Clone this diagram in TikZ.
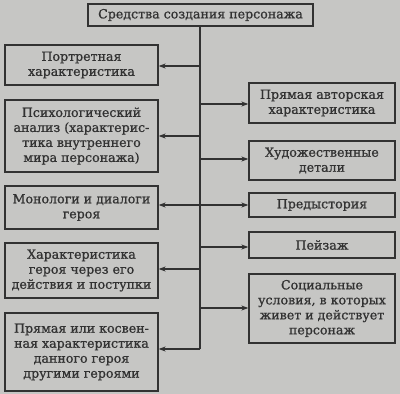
\documentclass[tikz,border=0pt]{standalone}
\usepackage{fontspec}
\setmainfont{DejaVu Serif}
\newfontfamily\boxfont{DejaVu Serif}[FakeBold=0.9]
\usetikzlibrary{arrows.meta}
\definecolor{bg}{RGB}{198,198,196}
\definecolor{ink}{RGB}{50,50,50}
\begin{document}
\begin{tikzpicture}[x=1pt,y=-1pt,
  box/.style={draw=ink,line width=1.3pt,fill=bg,text=ink,align=center,inner sep=0pt,
    font=\boxfont\fontsize{12.6}{15}\selectfont},
  arr/.style={draw=ink,line width=1.3pt,-{Stealth[length=7pt,width=5pt]}}]
\fill[bg] (0,0) rectangle (400,394);
\useasboundingbox (0,0) rectangle (400,394);
% top
\node[box,minimum width=225pt,minimum height=22pt] (top) at (200.5,15) {Средства создания персонажа};
% left column
\node[box,minimum width=153pt,minimum height=40pt] (l1) at (81.5,65) {Портретная\\характеристика};
\node[box,minimum width=153pt,minimum height=72pt] (l2) at (81.5,136) {Психологический\\анализ (характерис-\\тика внутреннего\\мира персонажа)};
\node[box,minimum width=153pt,minimum height=43pt] (l3) at (81.5,207.5) {Монологи и диалоги\\героя};
\node[box,minimum width=153pt,minimum height=55pt] (l4) at (81.5,270.5) {Характеристика\\героя через его\\действия и поступки};
\node[box,minimum width=153pt,minimum height=78pt] (l5) at (81.5,352) {Прямая или косвен-\\ная характеристика\\данного героя\\другими героями};
% right column
\node[box,minimum width=146pt,minimum height=40pt] (r1) at (322,103) {Прямая авторская\\характеристика};
\node[box,minimum width=146pt,minimum height=39pt] (r2) at (322,160.5) {Художественные\\детали};
\node[box,minimum width=146pt,minimum height=24pt] (r3) at (322,205) {Предыстория};
\node[box,minimum width=146pt,minimum height=26pt] (r4) at (322,245) {Пейзаж};
\node[box,minimum width=146pt,minimum height=69pt] (r5) at (322,308.5) {Социальные\\условия, в которых\\живет и действует\\персонаж};
% trunk
\coordinate (tb) at (200,349);
\draw[draw=ink,line width=1.3pt] (top.south -| tb) -- (tb);
\foreach \n/\yy in {l1/66,l2/136,l3/205,l4/269,l5/349}{
  \coordinate (c\n) at (200,\yy);
  \draw[arr] (c\n) -- (\n.east |- c\n);
}
\foreach \n/\yy in {r1/104,r2/159,r3/205,r4/247,r5/308}{
  \coordinate (c\n) at (200,\yy);
  \draw[arr] (c\n) -- (\n.west |- c\n);
}
\end{tikzpicture}
\end{document}
